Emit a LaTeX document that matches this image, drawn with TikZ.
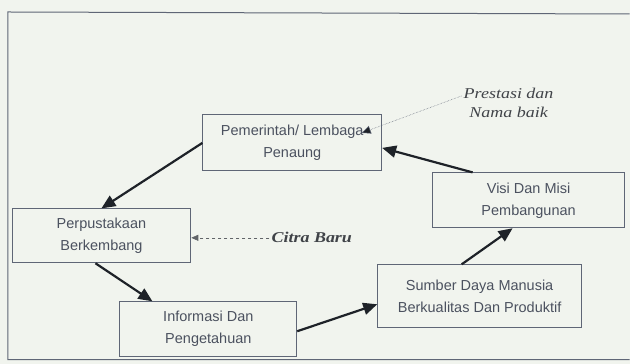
\documentclass[tikz,border=0pt]{standalone}
\usepackage{fontspec}
\setmainfont{Liberation Sans}
\newfontfamily\notefont[FakeStretch=1.2]{Liberation Serif}
\usetikzlibrary{arrows.meta,calc}
\definecolor{paper}{RGB}{241,244,238}
\definecolor{boxline}{RGB}{95,102,118}
\definecolor{ink}{RGB}{75,81,95}
\definecolor{dark}{RGB}{30,34,40}

\begin{document}
\begin{tikzpicture}[x=1pt,y=-1pt]
  \tikzstyle{box}=[draw=boxline, line width=0.9pt, rectangle, align=center, text=ink, font=\fontsize{14.5}{22}\selectfont, inner sep=0pt]
  \tikzstyle{flow}=[draw=dark, line width=2.2pt, -{Triangle[length=14pt,width=12pt]}]
  \tikzstyle{note}=[text=dark!85, align=center, inner sep=2pt]
  \fill[paper] (0,0) rectangle (630,364);
  \draw[boxline, line width=1pt] (630,14) -- (8,12) -- (8,360) -- (630,360);

  \node[box, minimum width=179pt, minimum height=56pt] (pemerintah) at (292.5,143) {Pemerintah/ Lembaga\\Penaung};
  \node[box, minimum width=179pt, minimum height=54pt] (perpustakaan) at (101.5,236) {Perpustakaan\\Berkembang};
  \node[box, minimum width=177pt, minimum height=55pt] (informasi) at (208.5,329.5) {Informasi Dan\\Pengetahuan};
  \node[box, minimum width=204pt, minimum height=63pt] (sumber) at (480,296.5) {Sumber Daya Manusia\\Berkualitas Dan Produktif};
  \node[box, minimum width=192pt, minimum height=55pt] (visi) at (529,200.5) {Visi Dan Misi\\Pembangunan};

  \node[note, font=\notefont\fontsize{15}{19}\selectfont\itshape] (prestasi) at (509,103) {Prestasi dan\\Nama baik};
  \node[note, font=\notefont\fontsize{15}{17}\selectfont\bfseries\itshape] (citra) at (312,238) {Citra Baru};
  \coordinate (tip) at (362,133);

  \draw[flow] (pemerintah.west) -- (perpustakaan.north);
  \draw[flow] (perpustakaan.south) ++(-6,0) -- ($(informasi.north west)+(33,0)$);
  \draw[flow] ([yshift=-2pt]informasi.east) -- ([yshift=-8pt]sumber.west);
  \draw[flow] ([xshift=-18pt]sumber.north) -- ([xshift=-16pt]visi.south);
  \draw[flow] ([xshift=-56pt]visi.north) -- ([yshift=-5pt]pemerintah.east);

  \draw[dashed, draw=dark!70, line width=0.6pt, -{Triangle[length=7pt,width=6pt]}] (citra.west) -- (citra.west -| perpustakaan.east);
  \draw[densely dotted, draw=boxline, line width=0.5pt, -{Triangle[length=9pt,width=8pt,fill=dark]}] ([yshift=7pt]prestasi.west) -- (tip);
\end{tikzpicture}
\end{document}
